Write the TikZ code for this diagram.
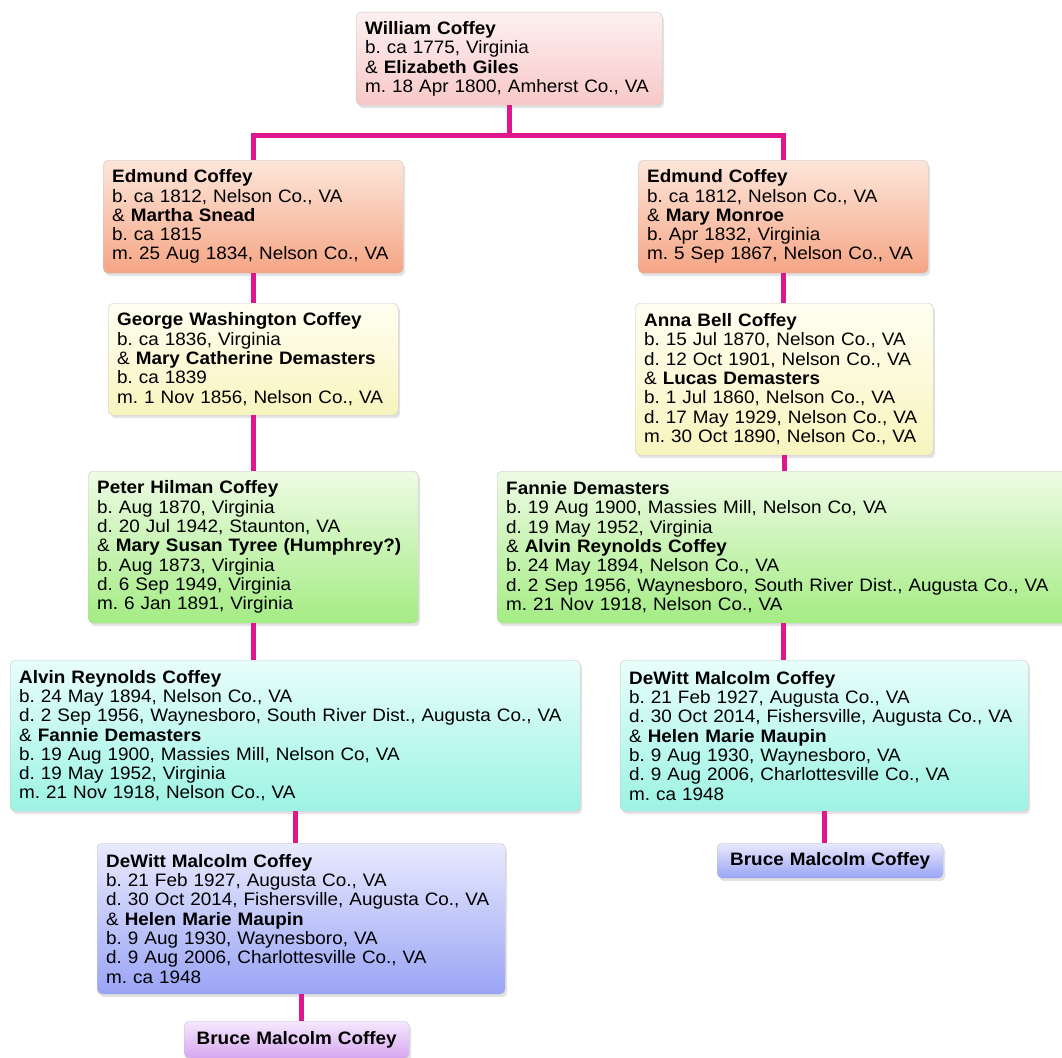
\documentclass[tikz,border=0pt]{standalone}
\usepackage{fontspec}
\setmainfont{Liberation Sans}[FakeStretch=1.05]
\frenchspacing
\usetikzlibrary{shadows}
\definecolor{linkpink}{HTML}{E0168C}
\definecolor{pinkTop}{HTML}{FDF0F0}
\definecolor{pinkBot}{HTML}{F8C8C8}
\definecolor{salmonTop}{HTML}{FDE6DA}
\definecolor{salmonBot}{HTML}{F5A585}
\definecolor{creamTop}{HTML}{FFFFF2}
\definecolor{creamBot}{HTML}{F8F4BE}
\definecolor{greenTop}{HTML}{EEFBE4}
\definecolor{greenBot}{HTML}{A4EC84}
\definecolor{aquaTop}{HTML}{E8FEFB}
\definecolor{aquaBot}{HTML}{9CF3E4}
\definecolor{blueTop}{HTML}{E8EAFD}
\definecolor{blueBot}{HTML}{9AA4F5}
\definecolor{lilacTop}{HTML}{F6E8FD}
\definecolor{lilacBot}{HTML}{D6A6F0}
\begin{document}
\begin{tikzpicture}[
  x=1pt, y=-1pt,
  person/.style={rectangle, rounded corners=5pt, draw=black!22, anchor=north west, align=left,
    inner xsep=9pt, inner ysep=0pt, font=\fontsize{18}{19.3}\selectfont,
    drop shadow={opacity=0.22, shadow xshift=2pt, shadow yshift=-3pt}},
  child/.style={person, align=center, font=\bfseries\fontsize{18}{19.3}\selectfont},
  link/.style={draw=linkpink, line width=5pt},
  gen1/.style={top color=pinkTop, bottom color=pinkBot},
  gen2/.style={top color=salmonTop, bottom color=salmonBot},
  gen3/.style={top color=creamTop, bottom color=creamBot},
  gen4/.style={top color=greenTop, bottom color=greenBot},
  gen5/.style={top color=aquaTop, bottom color=aquaBot},
  gen6/.style={top color=blueTop, bottom color=blueBot},
  gen7/.style={top color=lilacTop, bottom color=lilacBot}
]
\useasboundingbox (0,0) rectangle (1062,1057);

\node[person, gen1, text width=288pt, minimum height=93pt] (william) at (356,12)
  {\textbf{William Coffey}\\b. ca 1775, Virginia\\\& \textbf{Elizabeth Giles}\\m. 18 Apr 1800, Amherst Co., VA};

\node[person, gen2, text width=282pt, minimum height=113pt] (edmundL) at (103,160)
  {\textbf{Edmund Coffey}\\b. ca 1812, Nelson Co., VA\\\& \textbf{Martha Snead}\\b. ca 1815\\m. 25 Aug 1834, Nelson Co., VA};
\node[person, gen2, text width=272pt, minimum height=113pt] (edmundR) at (638,160)
  {\textbf{Edmund Coffey}\\b. ca 1812, Nelson Co., VA\\\& \textbf{Mary Monroe}\\b. Apr 1832, Virginia\\m. 5 Sep 1867, Nelson Co., VA};

\node[person, gen3, text width=272pt, minimum height=112pt] (george) at (108,303)
  {\textbf{George Washington Coffey}\\b. ca 1836, Virginia\\\& \textbf{Mary Catherine Demasters}\\b. ca 1839\\m. 1 Nov 1856, Nelson Co., VA};
\node[person, gen3, text width=280pt, minimum height=152pt] (anna) at (635,303)
  {\textbf{Anna Bell Coffey}\\b. 15 Jul 1870, Nelson Co., VA\\d. 12 Oct 1901, Nelson Co., VA\\\& \textbf{Lucas Demasters}\\b. 1 Jul 1860, Nelson Co., VA\\d. 17 May 1929, Nelson Co., VA\\m. 30 Oct 1890, Nelson Co., VA};

\node[person, gen4, text width=312pt, minimum height=152pt] (peter) at (88,471)
  {\textbf{Peter Hilman Coffey}\\b. Aug 1870, Virginia\\d. 20 Jul 1942, Staunton, VA\\\& \textbf{Mary Susan Tyree (Humphrey?)}\\b. Aug 1873, Virginia\\d. 6 Sep 1949, Virginia\\m. 6 Jan 1891, Virginia};
\node[person, gen4, text width=554pt, minimum height=152pt] (fannie) at (497,471)
  {\textbf{Fannie Demasters}\\b. 19 Aug 1900, Massies Mill, Nelson Co, VA\\d. 19 May 1952, Virginia\\\& \textbf{Alvin Reynolds Coffey}\\b. 24 May 1894, Nelson Co., VA\\d. 2 Sep 1956, Waynesboro, South River Dist., Augusta Co., VA\\m. 21 Nov 1918, Nelson Co., VA};

\node[person, gen5, text width=552pt, minimum height=151pt] (alvin) at (10,660)
  {\textbf{Alvin Reynolds Coffey}\\b. 24 May 1894, Nelson Co., VA\\d. 2 Sep 1956, Waynesboro, South River Dist., Augusta Co., VA\\\& \textbf{Fannie Demasters}\\b. 19 Aug 1900, Massies Mill, Nelson Co, VA\\d. 19 May 1952, Virginia\\m. 21 Nov 1918, Nelson Co., VA};
\node[person, gen5, text width=390pt, minimum height=151pt] (dewittR) at (620,660)
  {\textbf{DeWitt Malcolm Coffey}\\b. 21 Feb 1927, Augusta Co., VA\\d. 30 Oct 2014, Fishersville, Augusta Co., VA\\\& \textbf{Helen Marie Maupin}\\b. 9 Aug 1930, Waynesboro, VA\\d. 9 Aug 2006, Charlottesville Co., VA\\m. ca 1948};

\node[person, gen6, text width=390pt, minimum height=151pt] (dewittL) at (97,843)
  {\textbf{DeWitt Malcolm Coffey}\\b. 21 Feb 1927, Augusta Co., VA\\d. 30 Oct 2014, Fishersville, Augusta Co., VA\\\& \textbf{Helen Marie Maupin}\\b. 9 Aug 1930, Waynesboro, VA\\d. 9 Aug 2006, Charlottesville Co., VA\\m. ca 1948};
\node[child, gen6, text width=208pt, minimum height=35pt] (bruceR) at (717,843) {Bruce Malcolm Coffey};

\node[child, gen7, text width=207pt, minimum height=37pt] (bruceL) at (184,1021) {Bruce Malcolm Coffey};

\draw[link] (william.south) -- ++(0,30) coordinate (bar);
\draw[link] (edmundL.north) |- (bar) -| (edmundR.north);
\draw[link] (edmundL.south) -- (edmundL.south |- george.north);
\draw[link] (edmundR.south) -- (edmundR.south |- anna.north);
\draw[link] (george.south) -- (george.south |- peter.north);
\draw[link] (anna.south) -- (anna.south |- fannie.north);
\draw[link] (peter.south) -- (peter.south |- alvin.north);
\draw[link] (fannie.south) -- (fannie.south |- dewittR.north);
\draw[link] (alvin.south) -- (alvin.south |- dewittL.north);
\draw[link] (dewittR.south) -- (dewittR.south |- bruceR.north);
\draw[link] (dewittL.south) -- (dewittL.south |- bruceL.north);
\end{tikzpicture}
\end{document}
